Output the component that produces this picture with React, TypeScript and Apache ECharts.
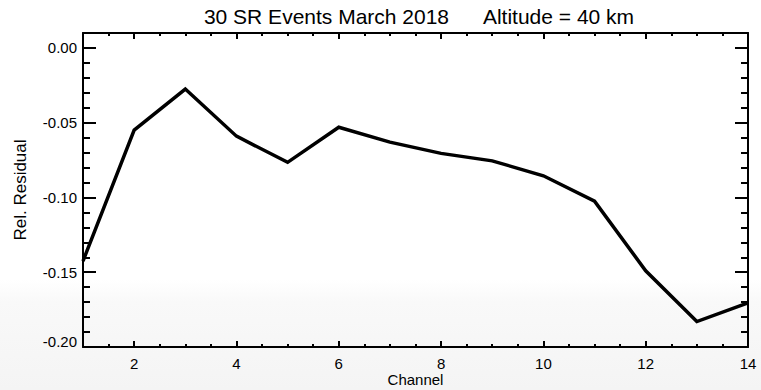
import React, { useEffect, useRef } from "react";
import * as echarts from "echarts";

const channels = [1, 2, 3, 4, 5, 6, 7, 8, 9, 10, 11, 12, 13, 14];
const relResidual = [-0.1425, -0.055, -0.0275, -0.059, -0.0765, -0.053, -0.063, -0.0705, -0.0755, -0.0855, -0.1025, -0.149, -0.183, -0.1705];

const xMajorTicks = [2, 4, 6, 8, 10, 12, 14];
const xMinorTicks = [1.5, 2.5, 3, 3.5, 4.5, 5, 5.5, 6.5, 7, 7.5, 8.5, 9, 9.5, 10.5, 11, 11.5, 12.5, 13, 13.5];
const yMajorTicks = [-0.2, -0.15, -0.1, -0.05, 0];
const yMinorTicks = [-0.19, -0.18, -0.17, -0.16, -0.14, -0.13, -0.12, -0.11, -0.09, -0.08, -0.07, -0.06, -0.04, -0.03, -0.02, -0.01];

const titleText = "30 SR Events March 2018      Altitude = 40 km";
const xName = "Channel";
const yName = "Rel. Residual";

const FONT = "Liberation Sans, Arial, sans-serif";

export default function App() {
  const ref = useRef<HTMLDivElement>(null);
  useEffect(() => {
    if (!ref.current) return;
    const chart = echarts.init(ref.current, undefined, { renderer: "svg" });
    const xRange = { min: 1, max: 14 };
    const yRange = { min: -0.2, max: 0.01 };
    const hidden = { show: false };
    const xBase = (position: string, major: boolean, withLabels: boolean, showLine: boolean) => ({
      type: "value",
      position,
      ...xRange,
      gridIndex: 0,
      splitLine: hidden,
      axisLine: { show: showLine, onZero: false, lineStyle: { color: "#000", width: 2 } },
      axisTick: {
        show: true,
        inside: true,
        length: major ? 6 : 3,
        customValues: major ? xMajorTicks : xMinorTicks,
        lineStyle: { color: "#000", width: 2 },
      },
      axisLabel: withLabels
        ? { show: true, customValues: xMajorTicks, margin: 9, color: "#000", fontSize: 15, fontFamily: FONT }
        : { show: false },
      ...(withLabels
        ? {
            name: xName,
            nameLocation: "middle",
            nameGap: 25,
            nameMoveOverlap: false,
            nameTextStyle: { color: "#000", fontSize: 15, fontFamily: FONT },
          }
        : {}),
    });
    const yBase = (position: string, major: boolean, withLabels: boolean, showLine: boolean) => ({
      type: "value",
      position,
      ...yRange,
      gridIndex: 0,
      splitLine: hidden,
      axisLine: { show: showLine, onZero: false, lineStyle: { color: "#000", width: 2 } },
      axisTick: {
        show: true,
        inside: true,
        length: major ? 13 : 7,
        customValues: major ? yMajorTicks : yMinorTicks,
        lineStyle: { color: "#000", width: 2 },
      },
      axisLabel: withLabels
        ? {
            show: true,
            customValues: yMajorTicks,
            margin: 6,
            color: "#000",
            fontSize: 15,
            fontFamily: FONT,
            formatter: (v: number) => (v <= -0.2 ? "{low|" + v.toFixed(2) + "}" : v.toFixed(2)),
            rich: { low: { fontSize: 15, fontFamily: FONT, color: "#000", padding: [0, 0, 11, 0] } },
          }
        : { show: false },
      ...(withLabels
        ? {
            name: yName,
            nameLocation: "middle",
            nameGap: 54,
            nameMoveOverlap: false,
            nameTextStyle: { color: "#000", fontSize: 17, fontFamily: FONT },
          }
        : {}),
    });
    chart.setOption({
      animation: false,
      backgroundColor: "#fff",
      title: {
        text: titleText,
        left: 414,
        textAlign: "center",
        top: 1,
        textStyle: { color: "#000", fontSize: 21, fontWeight: "normal", fontFamily: FONT },
      },
      graphic: [
        {
          type: "rect",
          z: -10,
          silent: true,
          shape: { x: 0, y: 280, width: 761, height: 110 },
          style: {
            fill: new echarts.graphic.LinearGradient(0, 0, 0, 1, [
              { offset: 0, color: "#ffffff" },
              { offset: 0.2, color: "#f9f9f9" },
              { offset: 1, color: "#f4f4f4" },
            ]),
          },
        },
      ],
      grid: { left: 83, right: 13, top: 33, bottom: 43, containLabel: false, outerBoundsMode: "none" },
      xAxis: [
        xBase("bottom", true, true, true),
        xBase("bottom", false, false, false),
        xBase("top", true, false, true),
        xBase("top", false, false, false),
      ],
      yAxis: [
        yBase("left", true, true, true),
        yBase("left", false, false, false),
        yBase("right", true, false, true),
        yBase("right", false, false, false),
      ],
      series: [
        {
          type: "line",
          xAxisIndex: 0,
          yAxisIndex: 0,
          data: channels.map((c, i) => [c, relResidual[i]]),
          showSymbol: false,
          symbol: "none",
          lineStyle: { color: "#000", width: 3.5, join: "miter" },
          clip: true,
        },
      ],
    });
    return () => chart.dispose();
  }, []);
  return <div ref={ref} style={{ width: 761, height: 390, position: "absolute", left: 0, top: 0 }} />;
}
